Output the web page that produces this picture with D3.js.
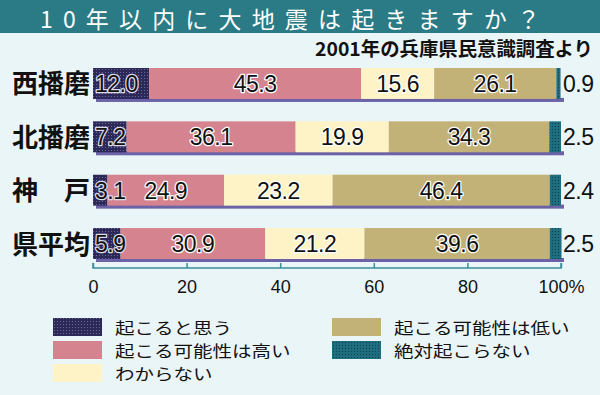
<!DOCTYPE html>
<html><head><meta charset="utf-8">
<script src="https://cdn.jsdelivr.net/npm/d3@7"></script>
<style>body{margin:0;background:#eaf5f7;}svg{display:block;}</style>
</head><body>
<script>
const categories = ["西播磨","北播磨","神　戸","県平均"];
const seriesNames = ["起こると思う","起こる可能性は高い","わからない","起こる可能性は低い","絶対起こらない"];
const v_think = [12.0, 7.2, 3.1, 5.9];
const v_high = [45.3, 36.1, 24.9, 30.9];
const v_unknown = [15.6, 19.9, 23.2, 21.2];
const v_low = [26.1, 34.3, 46.4, 39.6];
const v_never = [0.9, 2.5, 2.4, 2.5];
const tickValues = [0,20,40,60,80,100];
const tickLabels = ["0","20","40","60","80","100%"];
const colors = ["#2c2858","#d5848f","#fdf3c6","#c3b277","#1f6e7f"];
const series = [v_think, v_high, v_unknown, v_low, v_never];

const W=600,H=395;
const svg=d3.select("body").append("svg").attr("width",W).attr("height",H);
svg.append("rect").attr("width",W).attr("height",H).attr("fill","#eaf5f7");
const defs=svg.append("defs");
const p1=defs.append("pattern").attr("id","dots1").attr("width",3).attr("height",3).attr("patternUnits","userSpaceOnUse");
p1.append("rect").attr("width",3).attr("height",3).attr("fill",colors[0]);
p1.append("rect").attr("width",1).attr("height",1).attr("fill","#6a6a9a");
const p2=defs.append("pattern").attr("id","dots2").attr("width",3).attr("height",3).attr("patternUnits","userSpaceOnUse");
p2.append("rect").attr("width",3).attr("height",3).attr("fill",colors[4]);
p2.append("rect").attr("width",1).attr("height",1).attr("fill","#0e3f4a");
const fills=["url(#dots1)",colors[1],colors[2],colors[3],"url(#dots2)"];

// title bar
svg.append("rect").attr("x",0).attr("y",0).attr("width",W).attr("height",33).attr("fill","#2b7b86");
svg.append("text").attr("x",40).attr("y",27.5)
  .attr("font-family","'Noto Sans CJK JP'").attr("font-size",23).attr("fill","#ffffff")
  .attr("textLength",500).attr("lengthAdjust","spacing")
  .text("10年以内に大地震は起きますか？");
svg.append("text").attr("x",315).attr("y",56)
  .attr("font-family","'Noto Sans CJK JP'").attr("font-weight","bold").attr("font-size",19).attr("fill","#111")
  .attr("textLength",278).attr("lengthAdjust","spacingAndGlyphs")
  .text("2001年の兵庫県民意識調査より");

const x=d3.scaleLinear().domain([0,100]).range([93,561]);
const y=d3.scaleBand().domain(categories).range([68,259]).paddingInner(0.42).paddingOuter(0);
const bh=y.bandwidth();

const data=categories.map((c,i)=>{let acc=0;return series.map((s,k)=>{const d={cat:c,k,v:s[i],x0:acc,x1:acc+s[i]};acc+=s[i];return d;});});

const g=svg.append("g");
data.forEach(row=>{
  const c=row[0].cat;
  g.append("rect").attr("x",x(0)+3).attr("y",y(c)+bh-1).attr("width",x(100)-x(0)).attr("height",4).attr("fill","#6b62a8");
  row.forEach(d=>{
    g.append("rect").attr("x",x(d.x0)).attr("y",y(c)).attr("width",Math.max(0,x(d.x1)-x(d.x0))).attr("height",bh).attr("fill",fills[d.k]);
  });
  row.forEach(d=>{
    let lx, anchor="middle";
    if(d.k===0){lx=x(0)+2; anchor="start";}
    else if(d.k===4){lx=x(100)+2; anchor="start";}
    else lx=(x(d.x0)+x(d.x1))/2;
    const t=g.append("text").attr("x",lx).attr("y",y(c)+bh/2+8.5).attr("text-anchor",anchor)
      .attr("font-family","'Liberation Sans',Arial").attr("font-size",23).attr("letter-spacing",-0.5).attr("fill","#111").text(d.v.toFixed(1));
    if(d.k!==4){
      t.attr("stroke",d.k===0?"#dcdce8":"#fff").attr("stroke-width",2.5).attr("paint-order","stroke").attr("stroke-linejoin","round");
    }
  });
  svg.append("text").attr("x",12).attr("y",y(c)+bh/2+10).attr("font-family","'Noto Sans CJK JP'").attr("font-weight","bold")
    .attr("font-size",26).attr("fill","#111").text(c);
});

// axis
const axis=d3.axisBottom(x).tickValues(tickValues).tickSize(-5).tickFormat((d,i)=>tickLabels[i]);
const ag=svg.append("g").attr("transform","translate(0,268)").call(axis);
ag.select(".domain").attr("stroke","#3a8f9a").attr("stroke-width",1.5).attr("d",`M${x(0)},-5V0H${x(100)}V-5`);
ag.selectAll(".tick line").attr("stroke","#3a8f9a").attr("stroke-width",1.5);
ag.selectAll(".tick text").attr("y",12).attr("font-family","'Liberation Sans',Arial").attr("font-size",18).attr("fill","#111");

// legend
const leg=[{k:0,x:53,y:318},{k:1,x:53,y:341},{k:2,x:53,y:364},{k:3,x:332,y:318},{k:4,x:332,y:341}];
leg.forEach(l=>{
  svg.append("rect").attr("x",l.x).attr("y",l.y).attr("width",49).attr("height",18).attr("fill",fills[l.k]);
  const name=seriesNames[l.k];
  svg.append("text").attr("x",l.x+62).attr("y",l.y+15.5).attr("font-family","'Noto Sans CJK JP'").attr("font-size",15.8)
    .attr("textLength",name.length*19.5).attr("lengthAdjust","spacingAndGlyphs")
    .attr("fill","#111").text(name);
});
</script>
</body></html>
